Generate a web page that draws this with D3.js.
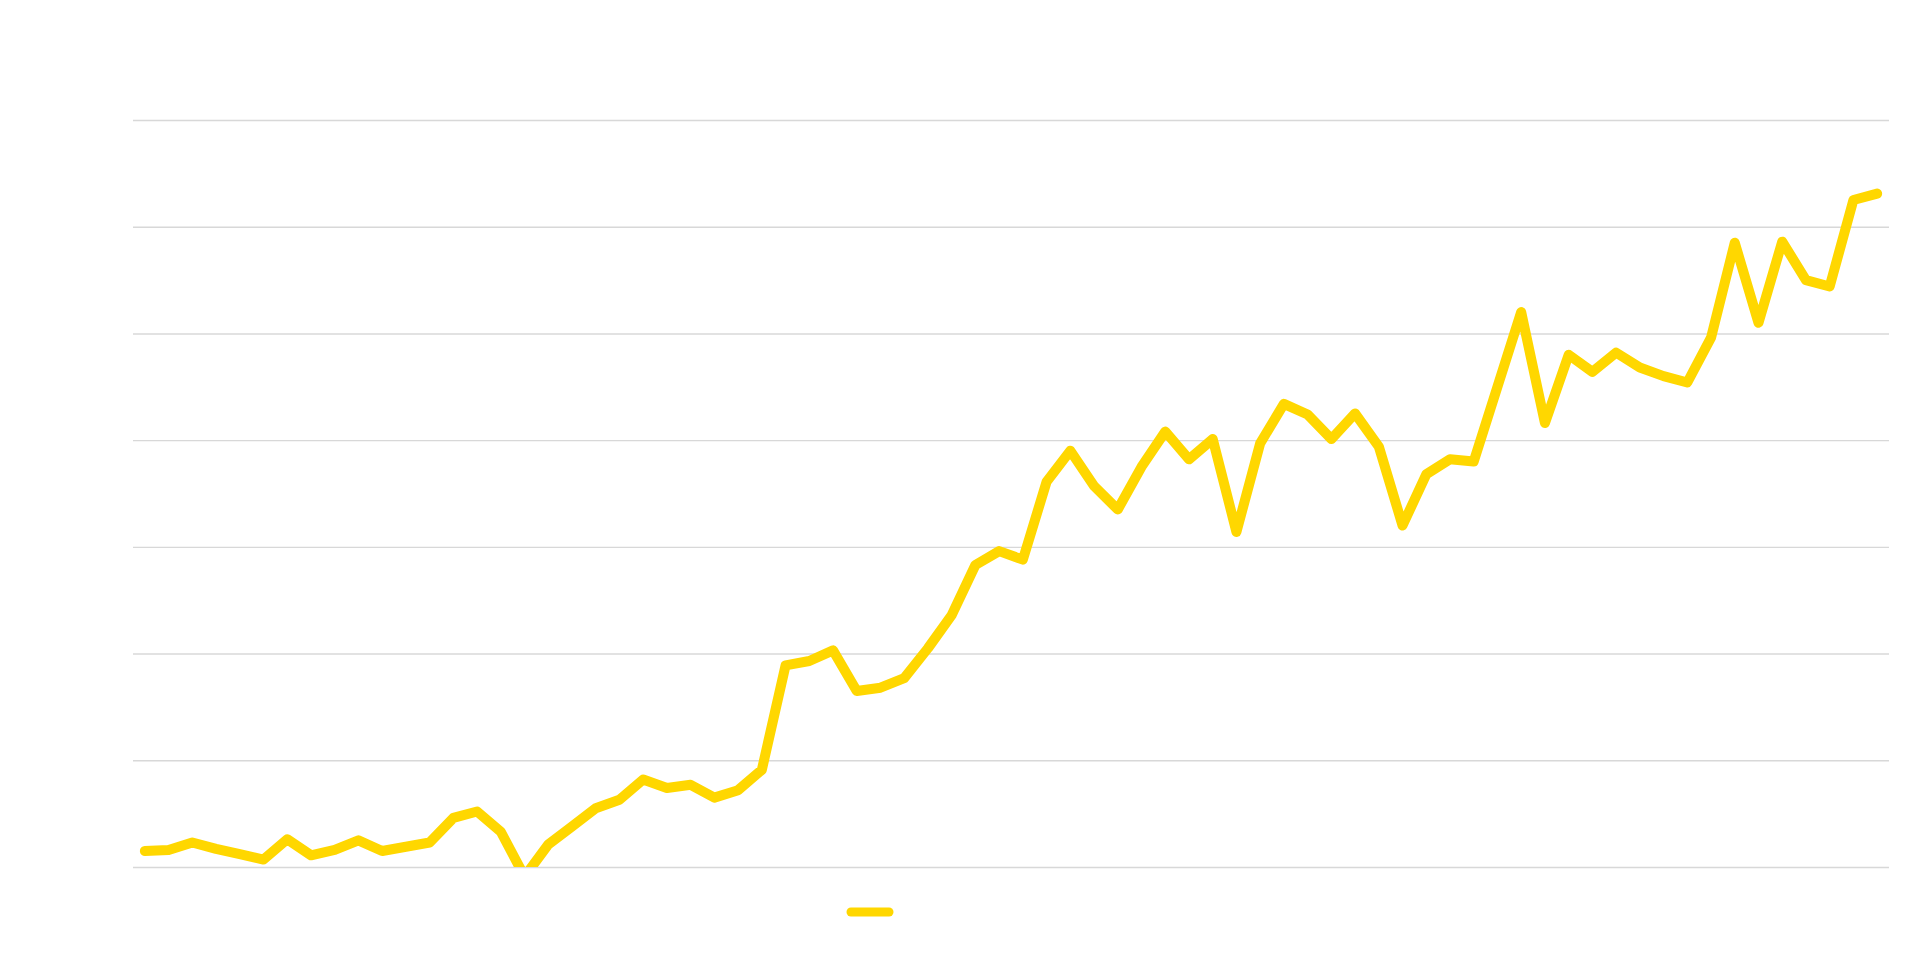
<!DOCTYPE html>
<html>
<head>
<meta charset="utf-8">
<script src="https://cdn.jsdelivr.net/npm/d3@7"></script>
<style>
  html, body { margin: 0; padding: 0; background: #ffffff; }
  svg { display: block; }
</style>
</head>
<body>
<svg id="chart" width="1920" height="979"></svg>
<script>
// ---- data ----
const categories = [
  "1","2","3","4","5","6","7","8","9","10",
  "11","12","13","14","15","16","17","18","19","20",
  "21","22","23","24","25","26","27","28","29","30",
  "31","32","33","34","35","36","37","38","39","40",
  "41","42","43","44","45","46","47","48","49","50",
  "51","52","53","54","55","56","57","58","59","60",
  "61","62","63","64","65","66","67","68","69","70",
  "71","72","73","74"
];
const seriesValues = [
  1.5, 1.6, 2.3, 1.7, 1.2, 0.7, 2.6, 1.1, 1.6, 2.5,
  1.5, 1.9, 2.3, 4.6, 5.2, 3.3, -0.9, 2.1, 3.8, 5.5,
  6.3, 8.2, 7.4, 7.7, 6.5, 7.2, 9.1, 18.9, 19.3, 20.3,
  16.5, 16.8, 17.7, 20.5, 23.6, 28.3, 29.6, 28.8, 36.1, 39.0,
  35.7, 33.5, 37.5, 40.8, 38.2, 40.1, 31.4, 39.7, 43.4, 42.4,
  40.1, 42.5, 39.4, 32.0, 36.8, 38.2, 38.0, 45.0, 52.0, 41.6,
  48.0, 46.4, 48.2, 46.8, 46.0, 45.4, 49.6, 58.5, 51.0, 58.6,
  55.0, 54.4, 62.5, 63.1
];
const yTicks = [0, 10, 20, 30, 40, 50, 60, 70];
const seriesName = "";
const seriesColor = "#FFD700";

// ---- layout ----
const W = 1920, H = 979;
const margin = { top: 120, right: 31, bottom: 112, left: 133 };
const innerW = W - margin.left - margin.right;
const innerH = H - margin.top - margin.bottom;

const svg = d3.select("#chart");

const x = d3.scaleBand().domain(categories).range([margin.left, margin.left + innerW]).padding(0);
const y = d3.scaleLinear().domain([0, 70]).range([margin.top + innerH, margin.top]);

// grid lines (y axis with no labels)
const yAxis = d3.axisLeft(y).tickValues(yTicks).tickSize(-innerW).tickFormat(() => "");
const gy = svg.append("g")
  .attr("transform", `translate(${margin.left},0)`)
  .call(yAxis);
gy.select(".domain").remove();
gy.selectAll(".tick line").attr("stroke", "#d8d8d8").attr("stroke-width", 1.4);
gy.selectAll(".tick text").remove();

// clip to plot area
svg.append("defs").append("clipPath").attr("id", "plotclip")
  .append("rect")
  .attr("x", margin.left).attr("y", margin.top)
  .attr("width", innerW).attr("height", innerH);

const line = d3.line()
  .x((d, i) => x(categories[i]) + x.bandwidth() / 2)
  .y(d => y(d));

svg.append("g").attr("clip-path", "url(#plotclip)")
  .append("path")
  .datum(seriesValues)
  .attr("d", line)
  .attr("fill", "none")
  .attr("stroke", seriesColor)
  .attr("stroke-width", 10)
  .attr("stroke-linejoin", "round")
  .attr("stroke-linecap", "round");

// legend
const legend = svg.append("g").attr("transform", "translate(870,912)");
legend.append("line")
  .attr("x1", -19).attr("x2", 19).attr("y1", 0).attr("y2", 0)
  .attr("stroke", seriesColor).attr("stroke-width", 9)
  .attr("stroke-linecap", "round");
legend.append("text").attr("x", 26).attr("y", 5)
  .attr("font-family", "Roboto, sans-serif").attr("font-size", 14)
  .attr("fill", "#333").text(seriesName);
</script>
</body>
</html>
